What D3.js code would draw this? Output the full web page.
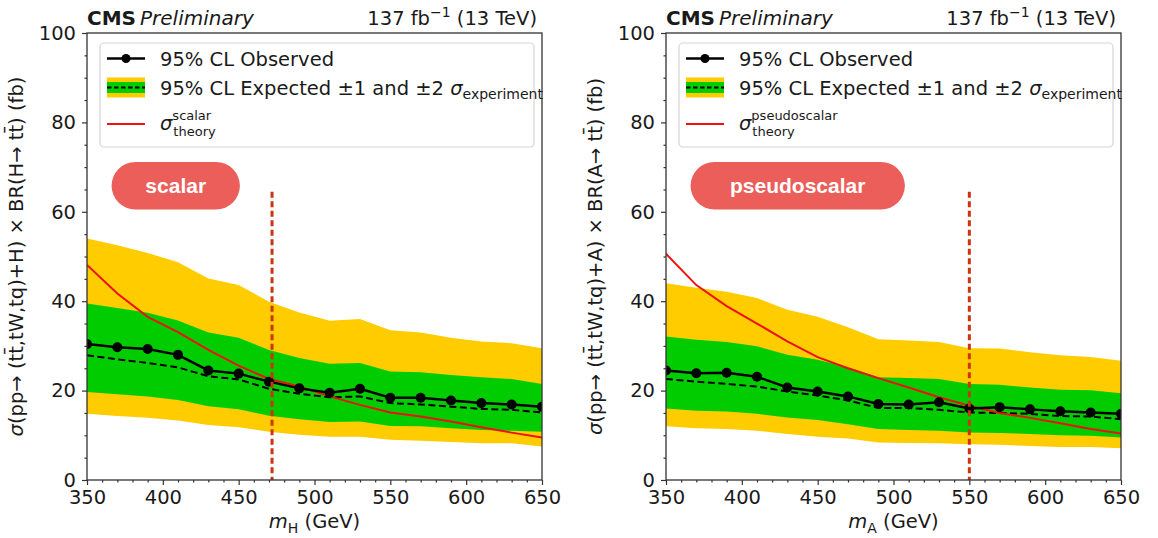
<!DOCTYPE html>
<html>
<head>
<meta charset="utf-8">
<script src="https://cdn.jsdelivr.net/npm/d3@7"></script>
<style>
  html, body { margin: 0; padding: 0; background: #ffffff; }
  svg { display: block; font-family: "DejaVu Sans", sans-serif; }
</style>
</head>
<body>
<svg id="chart" width="1158" height="538"></svg>
<script>
// Mass points (GeV) shared by both panels
const masses = [350, 370, 390, 410, 430, 450, 470, 490, 510, 530, 550, 570, 590, 610, 630, 650];

// Scalar (H) limits, fb
const scalarObserved = [30.4, 29.7, 29.3, 28.0, 24.5, 23.8, 22.0, 20.5, 19.5, 20.4, 18.4, 18.4, 17.8, 17.2, 16.9, 16.4];
const scalarExpected = [27.9, 27.0, 26.2, 25.2, 23.2, 22.5, 20.4, 19.3, 18.5, 18.7, 17.2, 16.9, 16.4, 15.9, 15.7, 15.1];
const scalarOneSigmaLow  = [19.7, 19.2, 18.7, 17.9, 16.5, 15.8, 14.4, 13.6, 13.0, 13.1, 12.1, 12.0, 11.6, 11.2, 11.0, 10.8];
const scalarOneSigmaHigh = [39.5, 38.5, 37.4, 35.7, 33.0, 31.8, 29.1, 27.3, 26.0, 26.2, 24.3, 24.1, 23.5, 23.0, 22.6, 21.5];
const scalarTwoSigmaLow  = [14.8, 14.3, 13.9, 13.3, 12.3, 11.8, 10.8, 10.1, 9.7, 9.7, 9.0, 8.8, 8.5, 8.2, 8.2, 7.5];
const scalarTwoSigmaHigh = [54.0, 52.5, 50.8, 48.7, 45.1, 43.6, 39.9, 37.5, 35.6, 36.0, 33.5, 33.0, 31.8, 31.0, 30.6, 29.5];
const scalarTheory = [48.1, 41.7, 36.5, 33.1, 29.1, 25.6, 22.6, 20.9, 18.7, 16.8, 15.1, 14.2, 13.1, 11.8, 10.6, 9.5];
const scalarExcludedMass = 472;

// Pseudoscalar (A) limits, fb
const pseudoObserved = [24.5, 23.9, 24.0, 23.1, 20.7, 19.8, 18.7, 17.0, 16.9, 17.4, 16.0, 16.3, 15.8, 15.4, 15.1, 14.8];
const pseudoExpected = [22.6, 22.0, 21.5, 20.9, 19.8, 18.9, 17.8, 16.1, 16.1, 15.7, 15.1, 15.0, 14.8, 14.3, 14.2, 13.6];
const pseudoOneSigmaLow  = [16.0, 15.5, 15.3, 14.8, 14.0, 13.4, 12.5, 11.4, 11.2, 11.0, 10.6, 10.5, 10.3, 10.0, 9.9, 9.5];
const pseudoOneSigmaHigh = [32.1, 31.4, 30.9, 29.9, 28.0, 26.9, 25.2, 23.0, 22.8, 22.6, 21.5, 21.3, 20.7, 20.2, 20.1, 19.4];
const pseudoTwoSigmaLow  = [12.0, 11.6, 11.4, 11.0, 10.3, 9.7, 9.3, 8.4, 8.3, 8.2, 8.0, 7.9, 7.6, 7.4, 7.4, 7.1];
const pseudoTwoSigmaHigh = [44.0, 43.0, 42.1, 40.7, 38.1, 36.5, 34.2, 31.5, 31.2, 30.9, 29.5, 29.4, 28.6, 27.9, 27.5, 26.7];
const pseudoTheory = [50.6, 43.6, 38.9, 35.0, 31.0, 27.5, 25.0, 22.8, 20.7, 18.5, 16.6, 15.0, 13.9, 12.7, 11.4, 10.4];
const pseudoExcludedMass = 550;

// Axis ticks
const xTicks = [350, 400, 450, 500, 550, 600, 650];
const xMinorTicks = d3.range(350, 651, 10);
const yTicks = [0, 20, 40, 60, 80, 100];
const yMinorTicks = d3.range(0, 101, 5);
const exclusionLineTop = 64.5;

const svg = d3.select("#chart");
svg.append("rect").attr("width", 1158).attr("height", 538).attr("fill", "#ffffff");

const panels = [
  {
    left: 87, boson: "H", kind: "scalar", label: "scalar",
    observed: scalarObserved, expected: scalarExpected,
    lo1: scalarOneSigmaLow, hi1: scalarOneSigmaHigh,
    lo2: scalarTwoSigmaLow, hi2: scalarTwoSigmaHigh,
    theory: scalarTheory, excluded: scalarExcludedMass,
    pillFrac: [0.054, 0.336]
  },
  {
    left: 666, boson: "A", kind: "pseudoscalar", label: "pseudoscalar",
    observed: pseudoObserved, expected: pseudoExpected,
    lo1: pseudoOneSigmaLow, hi1: pseudoOneSigmaHigh,
    lo2: pseudoTwoSigmaLow, hi2: pseudoTwoSigmaHigh,
    theory: pseudoTheory, excluded: pseudoExcludedMass,
    pillFrac: [0.054, 0.525]
  }
];

const plotW = 455, plotTop = 33, plotBottom = 480;
const fontSize = 19.5;
const textColor = "#1a1a1a";
const yellow = "#ffcc00", green = "#00cc00", theoryRed = "#ee1111", limitRed = "#cc3311";

panels.forEach(p => drawPanel(p));

function drawPanel(p) {
  const x0 = p.left, x1 = p.left + plotW;
  const x = d3.scaleLinear().domain([350, 650]).range([x0, x1]);
  const y = d3.scaleLinear().domain([0, 100]).range([plotBottom, plotTop]);
  const g = svg.append("g");

  const clipId = "clip-" + p.kind;
  svg.append("clipPath").attr("id", clipId)
    .append("rect").attr("x", x0).attr("y", plotTop).attr("width", plotW).attr("height", plotBottom - plotTop);
  const plot = g.append("g").attr("clip-path", `url(#${clipId})`);

  const idx = d3.range(masses.length);
  const band = (lo, hi) => d3.area().x(i => x(masses[i])).y0(i => y(lo[i])).y1(i => y(hi[i]));
  const line = (vals) => d3.line().x(i => x(masses[i])).y(i => y(vals[i]));

  // ±2σ and ±1σ expected bands, expected median, theory, observed
  plot.append("path").attr("d", band(p.lo2, p.hi2)(idx)).attr("fill", yellow);
  plot.append("path").attr("d", band(p.lo1, p.hi1)(idx)).attr("fill", green);
  plot.append("path").attr("d", line(p.expected)(idx)).attr("fill", "none")
    .attr("stroke", "#000").attr("stroke-width", 2).attr("stroke-dasharray", "7,3.5");
  plot.append("path").attr("d", line(p.theory)(idx)).attr("fill", "none")
    .attr("stroke", theoryRed).attr("stroke-width", 2);
  plot.append("path").attr("d", line(p.observed)(idx)).attr("fill", "none")
    .attr("stroke", "#000").attr("stroke-width", 2.5);
  plot.selectAll("circle.obs").data(idx).join("circle").attr("class", "obs")
    .attr("cx", i => x(masses[i])).attr("cy", i => y(p.observed[i])).attr("r", 5).attr("fill", "#000");

  // Mass exclusion boundary
  g.append("line")
    .attr("x1", x(p.excluded)).attr("x2", x(p.excluded))
    .attr("y1", y(exclusionLineTop)).attr("y2", y(0))
    .attr("stroke", limitRed).attr("stroke-width", 3).attr("stroke-dasharray", "6,3.5");

  // Rounded badge
  const pillX0 = x0 + p.pillFrac[0] * plotW, pillX1 = x0 + p.pillFrac[1] * plotW;
  const pillY0 = 162, pillY1 = 209.5;
  const ph = pillY1 - pillY0;
  g.append("rect").attr("x", pillX0).attr("y", pillY0).attr("width", pillX1 - pillX0).attr("height", ph)
    .attr("rx", ph / 2).attr("ry", ph / 2).attr("fill", "#eb5e5a");
  g.append("text").attr("x", (pillX0 + pillX1) / 2).attr("y", (pillY0 + pillY1) / 2 + 7.5)
    .attr("text-anchor", "middle").attr("fill", "#ffffff")
    .style("font-family", "'Liberation Sans', Arial, sans-serif").style("font-weight", "bold")
    .style("font-size", "21px").text(p.label);

  // Axes
  const xAxis = d3.axisBottom(x).tickValues(xTicks).tickSize(5).tickPadding(5).tickFormat(d3.format("d"));
  const xMinor = d3.axisBottom(x).tickValues(xMinorTicks.filter(v => !xTicks.includes(v))).tickSize(2.5).tickFormat("");
  const yAxis = d3.axisLeft(y).tickValues(yTicks).tickSize(5).tickPadding(6).tickFormat(d3.format("d"));
  const yMinor = d3.axisLeft(y).tickValues(yMinorTicks.filter(v => !yTicks.includes(v))).tickSize(2.5).tickFormat("");

  const styleAxis = sel => {
    sel.select(".domain").remove();
    sel.selectAll("line").attr("stroke", "#333").attr("stroke-width", 1.2);
    sel.selectAll("text").attr("fill", textColor).style("font-size", fontSize + "px")
      .style("font-family", "'DejaVu Sans', sans-serif");
  };
  g.append("g").attr("transform", `translate(0,${plotBottom})`).call(xMinor).call(styleAxis);
  g.append("g").attr("transform", `translate(0,${plotBottom})`).call(xAxis).call(styleAxis);
  g.append("g").attr("transform", `translate(${x0},0)`).call(yMinor).call(styleAxis);
  g.append("g").attr("transform", `translate(${x0},0)`).call(yAxis).call(styleAxis);

  // Frame
  g.append("rect").attr("x", x0).attr("y", plotTop).attr("width", plotW).attr("height", plotBottom - plotTop)
    .attr("fill", "none").attr("stroke", "#333").attr("stroke-width", 1.3);

  // Header
  const header = g.append("text").attr("x", x0).attr("y", 25).attr("fill", textColor)
    .style("font-size", "20px");
  header.append("tspan").style("font-weight", "bold").text("CMS");
  header.append("tspan").attr("dx", 4).style("font-style", "italic").text("Preliminary");

  const lumi = g.append("text").attr("x", x1 - 5).attr("y", 25).attr("text-anchor", "end")
    .attr("fill", textColor).style("font-size", fontSize + "px");
  lumi.append("tspan").text("137 fb");
  lumi.append("tspan").attr("dy", -8).style("font-size", "14px").text("\u22121");
  lumi.append("tspan").attr("dy", 8).text(" (13 TeV)");

  // Axis titles
  const xl = g.append("text").attr("x", (x0 + x1) / 2).attr("y", 528).attr("text-anchor", "middle")
    .attr("fill", textColor).style("font-size", fontSize + "px");
  xl.append("tspan").style("font-style", "italic").text("m");
  xl.append("tspan").attr("dy", 5).style("font-size", "14px").text(p.boson);
  xl.append("tspan").attr("dy", -5).text(" (GeV)");

  const yl = g.append("text").attr("transform", `translate(${x0 - 64},${(plotTop + plotBottom) / 2}) rotate(-90)`)
    .attr("text-anchor", "middle").attr("fill", textColor).style("font-size", fontSize + "px");
  yl.append("tspan").style("font-style", "italic").text("\u03c3");
  yl.append("tspan").text(`(pp\u2192  (tt\u0304,tW,tq)+${p.boson}) \u00d7 BR(${p.boson}\u2192 tt\u0304) (fb)`);

  // Legend
  const lx0 = x0 + 13, lx1 = x1 - 8, ly0 = 43, ly1 = 147;
  const lg = g.append("g");
  lg.append("rect").attr("x", lx0).attr("y", ly0).attr("width", lx1 - lx0).attr("height", ly1 - ly0)
    .attr("rx", 4).attr("fill", "#ffffff").attr("fill-opacity", 0.8).attr("stroke", "#d5d5d5").attr("stroke-width", 1.2);
  const hx0 = x0 + 20, hx1 = x0 + 58, tx = x0 + 73;
  const r1 = 58.5, r2 = 87.5, r3 = 124;
  lg.append("line").attr("x1", hx0).attr("x2", hx1).attr("y1", r1).attr("y2", r1)
    .attr("stroke", "#000").attr("stroke-width", 2.5);
  lg.append("circle").attr("cx", (hx0 + hx1) / 2).attr("cy", r1).attr("r", 4.5).attr("fill", "#000");
  lg.append("text").attr("x", tx).attr("y", r1 + 7).attr("fill", textColor).style("font-size", fontSize + "px")
    .text("95% CL Observed");

  lg.append("rect").attr("x", hx0).attr("y", r2 - 10).attr("width", hx1 - hx0).attr("height", 20).attr("fill", yellow);
  lg.append("rect").attr("x", hx0).attr("y", r2 - 5.5).attr("width", hx1 - hx0).attr("height", 11).attr("fill", green);
  lg.append("line").attr("x1", hx0).attr("x2", hx1).attr("y1", r2).attr("y2", r2)
    .attr("stroke", "#000").attr("stroke-width", 1.8).attr("stroke-dasharray", "4.5,2.5");
  const t2 = lg.append("text").attr("x", tx).attr("y", r2 + 7).attr("fill", textColor).style("font-size", fontSize + "px");
  t2.append("tspan").text("95% CL Expected \u00b11 and \u00b12 ");
  t2.append("tspan").style("font-style", "italic").text("\u03c3");
  t2.append("tspan").attr("dy", 4).style("font-size", "14px").text("experiment");

  lg.append("line").attr("x1", hx0).attr("x2", hx1).attr("y1", r3).attr("y2", r3)
    .attr("stroke", theoryRed).attr("stroke-width", 2.2);
  // σ with stacked superscript (model) and subscript (theory)
  const t3 = lg.append("text").attr("x", tx).attr("y", r3 + 6).attr("fill", textColor)
    .style("font-size", fontSize + "px");
  const sigma = t3.append("tspan").style("font-style", "italic").text("\u03c3");
  const sw = sigma.node().getComputedTextLength();
  t3.append("tspan").attr("dy", -10).style("font-size", "13px").text(p.kind);
  t3.append("tspan").attr("x", tx + sw + 1).attr("dy", 15.5).style("font-size", "13px").text("theory");
}
</script>
</body>
</html>
